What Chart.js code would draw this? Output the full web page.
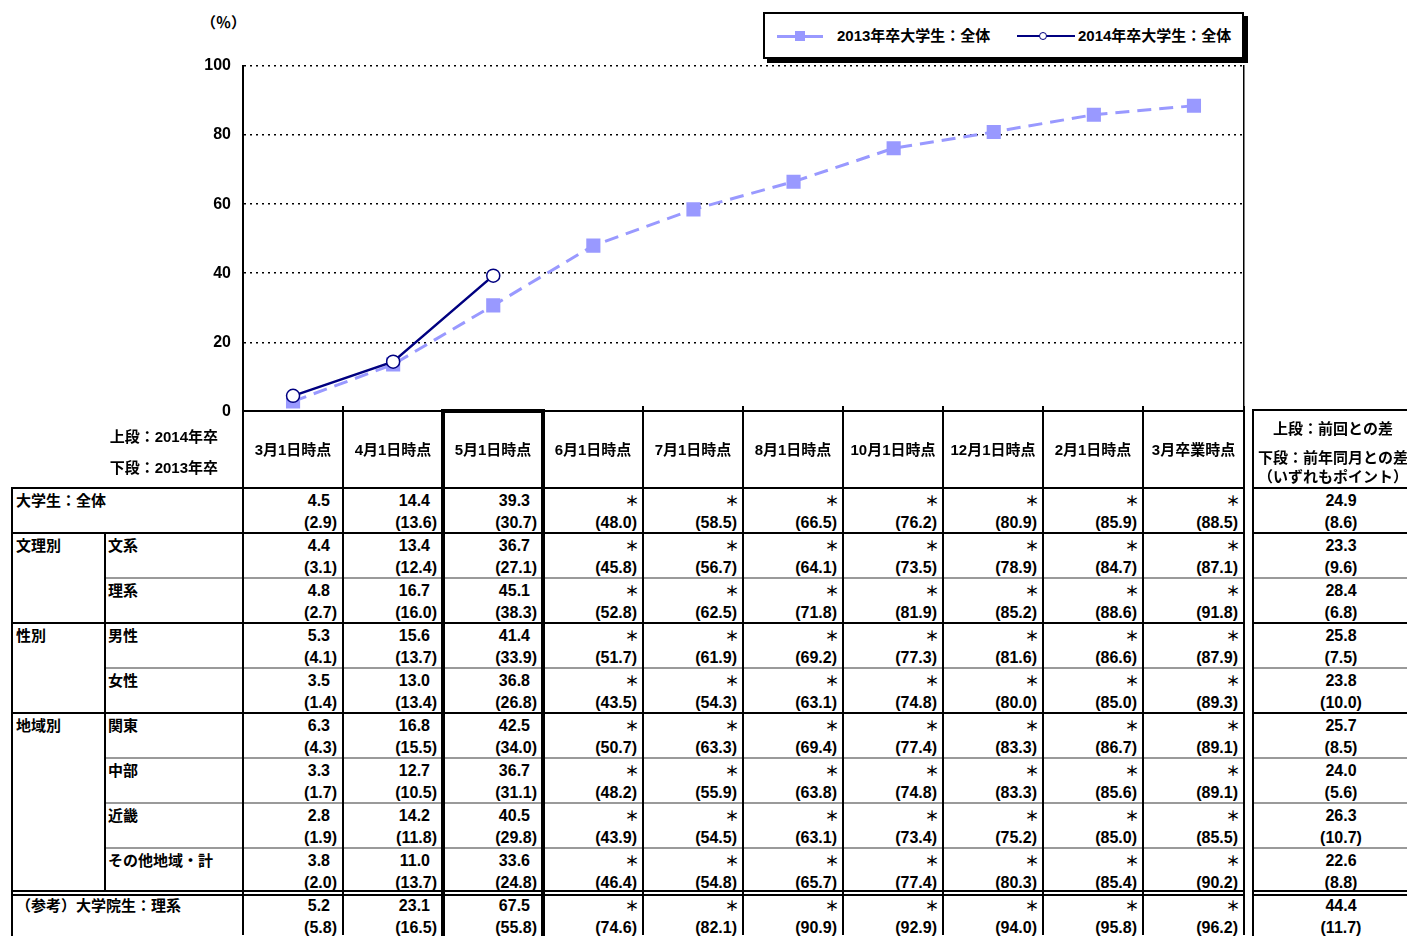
<!DOCTYPE html>
<html lang="ja">
<head>
<meta charset="UTF-8">
<title>大学生の就職内定率の推移</title>
<script src="https://cdn.jsdelivr.net/npm/chart.js"></script>
<style>
    body {
        margin: 0;
        width: 1407px;
        height: 936px;
        overflow: hidden;
        background: #fff;
        font-family: "Liberation Sans", Arial, "Noto Sans CJK JP", sans-serif;
        font-weight: bold;
        font-size: 15px;
        color: #000;
        position: relative;
    }
    #chartBox { position: absolute; left: 0; top: 0; width: 1407px; height: 433px; }
    .t { position: absolute; white-space: nowrap; line-height: 18px; height: 18px; }
    .num { font-size: 16px; }
    .ln { position: absolute; background: #000; }
    .gr { position: absolute; background: #9a9a9a; }
    #legend {
        position: absolute; left: 763px; top: 12px; width: 477px; height: 43px;
        border: 2px solid #000; box-shadow: 4px 4px 0 #000; background: #fff;
    }
</style>
</head>
<body>
<div class="t" style="left:201px; top:14px; font-size:15px;">（％）</div>

<div id="legend">
    <div class="ln" style="left:12px; top:21px; width:46px; height:3px; background:#9999ff;"></div>
    <div class="ln" style="left:30px; top:17px; width:10px; height:10px; background:#9999ff;"></div>
    <div class="t" style="left:72px; top:13px;">2013年卒大学生：全体</div>
    <div class="ln" style="left:252px; top:21px; width:58px; height:2px; background:#000080;"></div>
    <div class="ln" style="left:274px; top:18px; width:6px; height:6px; background:#fff; border:1.5px solid #000080; border-radius:50%;"></div>
    <div class="t" style="left:313px; top:13px;">2014年卒大学生：全体</div>
</div>

<canvas id="chartBox" width="1407" height="433"></canvas>
<div id="table"></div>

<script>
const categories = ['3月1日時点', '4月1日時点', '5月1日時点', '6月1日時点', '7月1日時点',
                    '8月1日時点', '10月1日時点', '12月1日時点', '2月1日時点', '3月卒業時点'];
const series2013 = [2.9, 13.6, 30.7, 48.0, 58.5, 66.5, 76.2, 80.9, 85.9, 88.5];
const series2014 = [4.5, 14.4, 39.3];
const yTicks = [0, 20, 40, 60, 80, 100];

// table rows
const groupLabels = ['大学生：全体', '文理別', '', '性別', '', '地域別', '', '', '', '（参考）大学院生：理系'];
const subLabels = ['', '文系', '理系', '男性', '女性', '関東', '中部', '近畿', 'その他地域・計', ''];
const rowTop = [
    [4.5, 14.4, 39.3],
    [4.4, 13.4, 36.7],
    [4.8, 16.7, 45.1],
    [5.3, 15.6, 41.4],
    [3.5, 13.0, 36.8],
    [6.3, 16.8, 42.5],
    [3.3, 12.7, 36.7],
    [2.8, 14.2, 40.5],
    [3.8, 11.0, 33.6],
    [5.2, 23.1, 67.5]
];
const rowBottom = [
    [2.9, 13.6, 30.7, 48.0, 58.5, 66.5, 76.2, 80.9, 85.9, 88.5],
    [3.1, 12.4, 27.1, 45.8, 56.7, 64.1, 73.5, 78.9, 84.7, 87.1],
    [2.7, 16.0, 38.3, 52.8, 62.5, 71.8, 81.9, 85.2, 88.6, 91.8],
    [4.1, 13.7, 33.9, 51.7, 61.9, 69.2, 77.3, 81.6, 86.6, 87.9],
    [1.4, 13.4, 26.8, 43.5, 54.3, 63.1, 74.8, 80.0, 85.0, 89.3],
    [4.3, 15.5, 34.0, 50.7, 63.3, 69.4, 77.4, 83.3, 86.7, 89.1],
    [1.7, 10.5, 31.1, 48.2, 55.9, 63.8, 74.8, 83.3, 85.6, 89.1],
    [1.9, 11.8, 29.8, 43.9, 54.5, 63.1, 73.4, 75.2, 85.0, 85.5],
    [2.0, 13.7, 24.8, 46.4, 54.8, 65.7, 77.4, 80.3, 85.4, 90.2],
    [5.8, 16.5, 55.8, 74.6, 82.1, 90.9, 92.9, 94.0, 95.8, 96.2]
];
const diffTop = [24.9, 23.3, 28.4, 25.8, 23.8, 25.7, 24.0, 26.3, 22.6, 44.4];
const diffBottom = [8.6, 9.6, 6.8, 7.5, 10.0, 8.5, 5.6, 10.7, 8.8, 11.7];

const ctx = document.getElementById('chartBox').getContext('2d');
const chart = new Chart(ctx, {
    type: 'line',
    data: {
        labels: categories,
        datasets: [
            {
                label: '2014年卒大学生：全体',
                data: series2014,
                borderColor: '#000080',
                borderWidth: 2.5,
                tension: 0,
                pointStyle: 'circle',
                pointRadius: 6.5,
                pointBackgroundColor: '#fff',
                pointBorderColor: '#000080',
                pointBorderWidth: 1.5
            },
            {
                label: '2013年卒大学生：全体',
                data: series2013,
                borderColor: '#9999ff',
                borderWidth: 3,
                borderDash: [14, 8],
                tension: 0,
                pointStyle: 'rect',
                pointRadius: 10,
                pointBackgroundColor: '#9999ff',
                pointBorderColor: '#9999ff',
                pointBorderWidth: 0
            }
        ]
    },
    options: {
        responsive: false,
        animation: false,
        events: [],
        layout: { padding: { top: 66, left: 0, right: 0, bottom: 0 } },
        plugins: { legend: { display: false }, tooltip: { enabled: false } },
        scales: {
            x: {
                offset: true,
                grid: { drawOnChartArea: false, drawTicks: false },
                ticks: { display: false },
                border: { color: '#000', width: 2 },
                afterFit: s => { s.height = 15; }
            },
            y: {
                min: 0,
                max: 100,
                afterBuildTicks: s => { s.ticks = yTicks.map(v => ({ value: v })); },
                ticks: {
                    padding: 12,
                    color: '#000',
                    font: { family: '"Liberation Sans", Arial, sans-serif', size: 16, weight: 'bold' }
                },
                grid: {
                    color: c => c.tick && c.tick.value === 0 ? 'rgba(0,0,0,0)' : '#000',
                    lineWidth: 1.5,
                    drawTicks: false
                },
                border: { color: '#000', width: 2, dash: [2, 4] },
                afterFit: s => { s.width = 243; }
            },
            y2: {
                position: 'right',
                min: 0,
                max: 100,
                grid: { drawOnChartArea: false, drawTicks: false },
                ticks: { display: false },
                border: { color: '#000', width: 1.5 },
                afterFit: s => { s.width = 163; }
            }
        }
    }
});

// ---- table under the chart ----
const tbl = document.getElementById('table');
const colX = [243, 343, 443, 543, 643, 743, 843, 943, 1043, 1143, 1244];
const headTop = 411, bodyTop = 488, rowH = 45, pageBottom = 940;

function text(x, y, w, s, align, extra, cls) {
    const d = document.createElement('div');
    d.className = 't' + (cls ? ' ' + cls : '');
    d.style.left = x + 'px';
    d.style.top = (y - 9) + 'px';
    d.style.width = w + 'px';
    d.style.textAlign = align || 'left';
    if (extra) Object.assign(d.style, extra);
    d.textContent = s;
    tbl.appendChild(d);
}
function box(cls, x, y, w, h) {
    const d = document.createElement('div');
    d.className = cls;
    d.style.left = x + 'px';
    d.style.top = y + 'px';
    d.style.width = w + 'px';
    d.style.height = h + 'px';
    tbl.appendChild(d);
}

// header
text(20, 437, 198, '上段：2014年卒', 'right');
text(20, 468, 198, '下段：2013年卒', 'right');
categories.forEach((c, i) => text(colX[i], 450, colX[i + 1] - colX[i], c, 'center'));
text(1253, 429, 160, '上段：前回との差', 'center');
text(1253, 458, 160, '下段：前年同月との差', 'center');
text(1253, 477, 160, '（いずれもポイント）', 'center');

// body
for (let r = 0; r < groupLabels.length; r++) {
    const y0 = bodyTop + r * rowH;
    if (groupLabels[r]) text(16, y0 + 13, 220, groupLabels[r]);
    if (subLabels[r]) text(108, y0 + 13, 130, subLabels[r]);
    for (let c = 0; c < categories.length; c++) {
        const x = colX[c], w = colX[c + 1] - colX[c];
        const top = rowTop[r][c];
        if (top !== undefined) text(x, y0 + 13, w, top.toFixed(1), 'right', { paddingRight: '13px', boxSizing: 'border-box' }, 'num');
        else text(x, y0 + 13, w, '＊', 'right', { paddingRight: '4px', boxSizing: 'border-box', fontSize: '14px' });
        text(x, y0 + 35, w, '(' + rowBottom[r][c].toFixed(1) + ')', 'right', { paddingRight: '6px', boxSizing: 'border-box' }, 'num');
    }
    text(1253, y0 + 13, 176, diffTop[r].toFixed(1), 'center', null, 'num');
    text(1253, y0 + 35, 176, '(' + diffBottom[r].toFixed(1) + ')', 'center', null, 'num');
}

// horizontal rules
box('ln', 12, bodyTop - 1, 1232, 2);
box('ln', 1253, bodyTop - 1, 160, 2);
box('ln', 1253, headTop - 2, 160, 2);
const solidRows = [1, 3, 5];
const grayRows = [2, 4, 6, 7, 8];
solidRows.forEach(r => {
    const y = bodyTop + r * rowH - 1;
    box('ln', 12, y, 1232, 2);
    box('ln', 1253, y, 160, 2);
});
grayRows.forEach(r => {
    const y = bodyTop + r * rowH - 1;
    box('gr', 105, y, 1139, 2);
    box('gr', 1253, y, 160, 2);
});
[-2, 2].forEach(dy => {
    const y = bodyTop + 9 * rowH - 1 + dy;
    box('ln', 12, y, 1232, 2);
    box('ln', 1253, y, 160, 2);
});

// vertical rules
box('ln', 11, bodyTop - 1, 2, pageBottom - bodyTop);
box('ln', 104, bodyTop + rowH, 2, 8 * rowH - 3);
colX.forEach((x, i) => {
    if (i === 2 || i === 3) return;
    box('ln', x - 1, headTop - 5, 2, pageBottom - headTop);
});
box('ln', 441, headTop - 2, 4, pageBottom - headTop);
box('ln', 541, headTop - 2, 4, pageBottom - headTop);
box('ln', 441, headTop - 2, 104, 4);
box('ln', 1252, headTop - 2, 2, pageBottom - headTop);
</script>
</body>
</html>
